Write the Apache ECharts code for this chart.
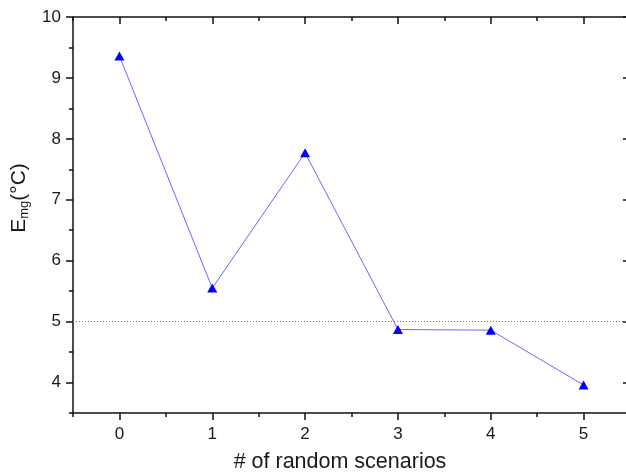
<!DOCTYPE html>
<html>
<head>
<meta charset="utf-8">
<script src="https://cdn.jsdelivr.net/npm/echarts@6/dist/echarts.min.js"></script>
<style>
  html, body { margin: 0; padding: 0; background: #fff; }
  #chart { width: 626px; height: 472px; }
</style>
</head>
<body>
<div id="chart"></div>
<script>
// scenario count vs E_mg
const scenarios = [0, 1, 2, 3, 4, 5]
const emg = [9.36, 5.55, 7.77, 4.87, 4.86, 3.96]
const refLevel = 5

const xMajorTicks = [0, 1, 2, 3, 4, 5]
const xMinorTicks = [-0.5, 0.5, 1.5, 2.5, 3.5, 4.5, 5.5]
const yMajorTicks = [4, 5, 6, 7, 8, 9, 10]
const yMinorTicks = [3.5, 4.5, 5.5, 6.5, 7.5, 8.5, 9.5]

const font = 'Liberation Sans, Arial, sans-serif'
const axisLine = { show: true, onZero: false, lineStyle: { color: '#111', width: 1.5 } }

function tickAxis(ticks, len, inside, showLine) {
  return {
    axisLine: showLine ? axisLine : { show: false, onZero: false },
    axisTick: { show: true, inside: inside, length: len, customValues: ticks, lineStyle: { color: '#111', width: 1.5 } },
    axisLabel: { show: false },
    splitLine: { show: false }
  }
}

let chart = echarts.init(document.getElementById('chart'))

let xBase = { type: 'value', min: -0.5, max: 5.5 }
let yBase = { type: 'value', min: 3.5, max: 10 }

let option = {
  animation: false,
  // the frame runs a few px past the right edge of the picture
  grid: { left: 73, top: 17, width: 557, bottom: 59, outerBoundsMode: 'none', containLabel: false },
  xAxis: [
    Object.assign({}, xBase, tickAxis(xMajorTicks, 7, false, true), {
      position: 'bottom',
      axisLabel: {
        show: true, customValues: xMajorTicks, margin: 13,
        fontFamily: font, fontSize: 17, color: '#1a1a1a'
      },
      name: '# of random scenarios',
      nameLocation: 'middle',
      nameGap: 38,
      nameTextStyle: { fontFamily: font, fontSize: 21.5, color: '#1a1a1a', padding: [0, 23, 0, 0] }
    }),
    Object.assign({}, xBase, tickAxis(xMinorTicks, 4, false, false), { position: 'bottom' }),
    Object.assign({}, xBase, tickAxis(xMajorTicks, 7, true, true), { position: 'top' }),
    Object.assign({}, xBase, tickAxis(xMinorTicks, 4, true, false), { position: 'top' })
  ],
  yAxis: [
    Object.assign({}, yBase, tickAxis(yMajorTicks, 7, false, true), {
      position: 'left',
      axisLabel: {
        show: true, customValues: yMajorTicks, margin: 12,
        fontFamily: font, fontSize: 17, color: '#1a1a1a'
      },
      name: '{a|E}{b|mg}{a|(°C)}',
      nameLocation: 'middle',
      nameGap: 36,
      nameTextStyle: {
        padding: [0, 0, 0, 34],
        rich: {
          a: { fontFamily: font, fontSize: 21, color: '#1a1a1a' },
          b: { fontFamily: font, fontSize: 13, color: '#1a1a1a', padding: [10, 0, 0, 0] }
        }
      }
    }),
    Object.assign({}, yBase, tickAxis(yMinorTicks, 4, false, false), { position: 'left' }),
    Object.assign({}, yBase, tickAxis(yMajorTicks, 7, true, true), { position: 'right' }),
    Object.assign({}, yBase, tickAxis(yMinorTicks, 4, true, false), { position: 'right' })
  ],
  series: [
    {
      type: 'line',
      xAxisIndex: 0,
      yAxisIndex: 0,
      data: scenarios.map((x, i) => [x, emg[i]]),
      symbol: 'triangle',
      symbolSize: [10, 9],
      itemStyle: { color: '#0000ff' },
      lineStyle: { color: '#6868ff', width: 1 },
      markLine: {
        silent: true,
        symbol: 'none',
        label: { show: false },
        lineStyle: { color: '#777', width: 1, type: [1, 2] },
        data: [{ yAxis: refLevel }]
      }
    }
  ]
}
chart.setOption(option)
</script>
</body>
</html>
